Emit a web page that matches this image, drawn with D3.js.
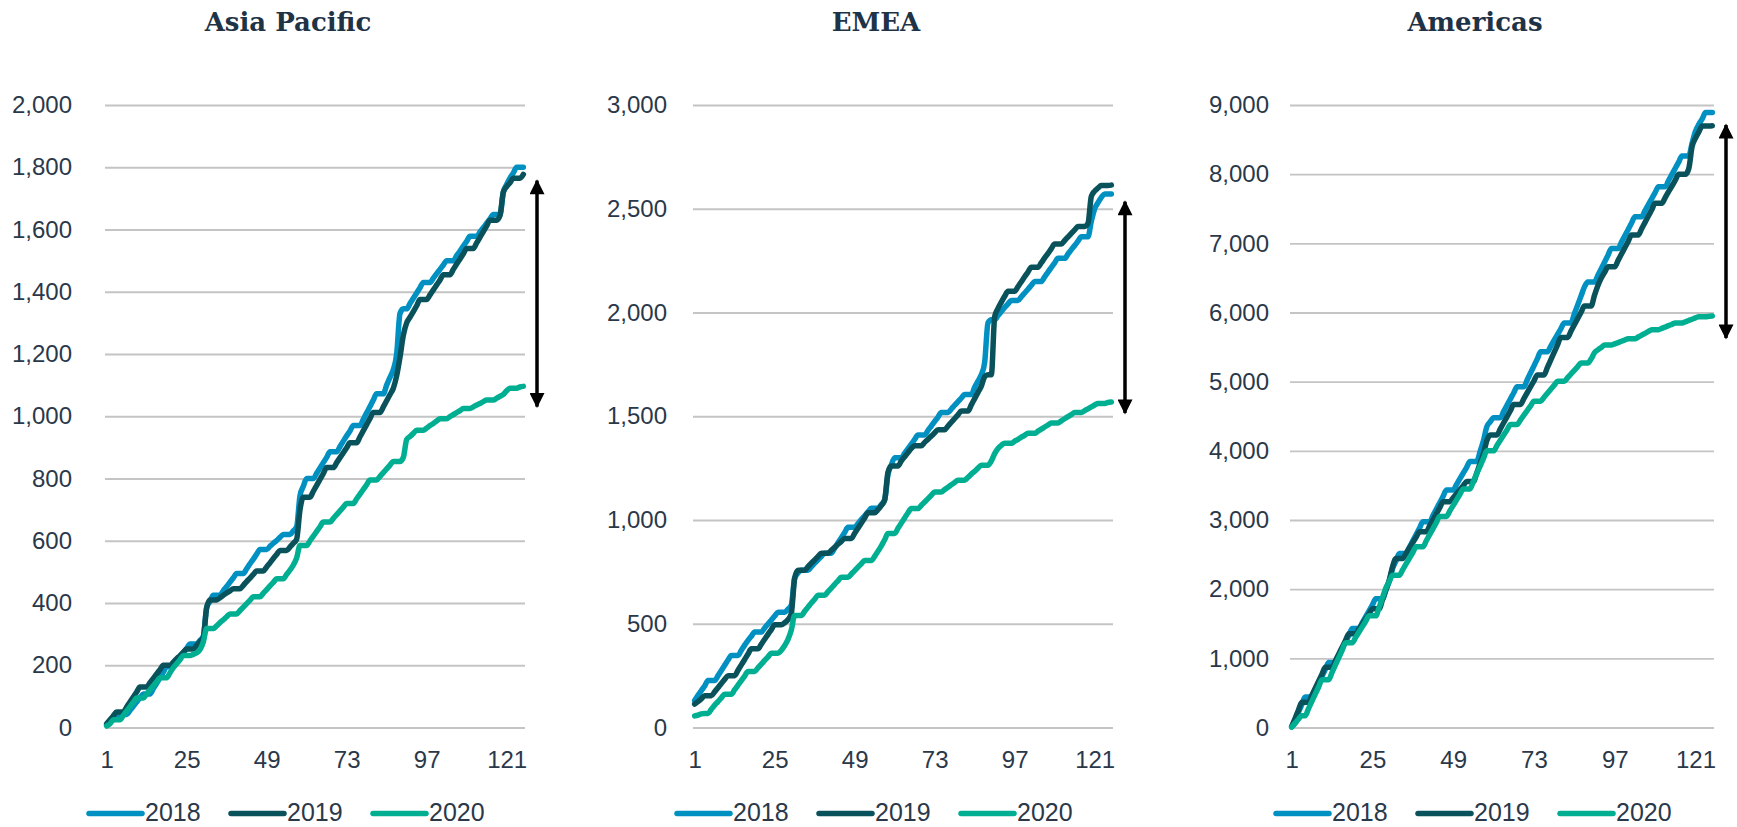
<!DOCTYPE html>
<html>
<head>
<meta charset="utf-8">
<script src="https://cdn.jsdelivr.net/npm/d3@7"></script>
<style>
  html, body { margin: 0; padding: 0; background: #ffffff; }
  svg { display: block; }
</style>
</head>
<body>
<svg id="chart" width="1737" height="827"></svg>
<script>
// Working days since 1 January, cumulative counts per region and year
const days = d3.range(1, 127);
const xTickLabels = [1, 25, 49, 73, 97, 121];
const years = ["2018", "2019", "2020"];
const yearColors = ["#0090C2", "#0A525B", "#00AF91"];
const regionNames = ["Asia Pacific", "EMEA", "Americas"];

const apacTicks = [0, 200, 400, 600, 800, 1000, 1200, 1400, 1600, 1800, 2000];
const emeaTicks = [0, 500, 1000, 1500, 2000, 2500, 3000];
const amerTicks = [0, 1000, 2000, 3000, 4000, 5000, 6000, 7000, 8000, 9000];

const apac2018 = [
  8,17,25,33,42,42,42, 55,68,82,95,108,108,108, 125,142,160,178,195,195,195,
  210,225,240,254,268,268,268, 280,293,385,405,425,425,425, 440,453,467,481,495,495,495,
  510,526,541,557,572,572,572, 582,592,601,611,620,620,620, 632,645,745,775,800,800,800,
  817,834,851,868,886,886,886, 903,920,937,953,970,970,970, 990,1011,1031,1052,1072,1072,1072,
  1100,1125,1150,1200,1330,1345,1345, 1362,1379,1396,1413,1430,1430,1430, 1444,1458,1472,1486,1500,1500,1500,
  1516,1531,1547,1562,1578,1578,1578, 1592,1606,1620,1634,1648,1648,1648, 1720,1745,1765,1782,1800,1800,1800
];
const apac2019 = [
  12,25,38,50,50,50,66, 82,98,114,130,130,130,144, 158,172,186,200,200,200,210,
  221,231,242,252,252,252,264, 276,290,385,410,410,410,417, 425,432,439,446,446,446,457,
  469,480,492,503,503,503,516, 529,543,556,569,569,569,580, 592,605,700,740,740,740,759,
  778,797,816,835,835,835,851, 867,883,899,915,915,915,934, 954,973,993,1012,1012,1012,1030,
  1050,1070,1090,1130,1190,1260,1300, 1318,1336,1355,1375,1375,1375,1390, 1406,1422,1438,1455,1455,1455,1472,
  1489,1505,1522,1539,1539,1539,1557, 1575,1593,1612,1630,1630,1630,1645, 1720,1738,1750,1765,1765,1765,1777
];
const apac2020 = [
  5,12,25,25,25,39,53, 67,81,95,95,95,108,121, 134,147,160,160,160,176,192,
  205,218,231,231,231,235,240, 250,275,318,318,318,327,337, 346,356,365,365,365,376,387,
  398,409,420,420,420,432,443, 455,466,478,478,478,492,506, 522,545,585,585,585,600,615,
  630,645,660,660,660,672,684, 696,708,720,720,720,735,750, 765,780,795,795,795,807,819,
  831,843,855,855,855,868,925, 935,945,955,955,955,962,970, 977,985,992,992,992,999,1005,
  1012,1018,1025,1025,1025,1030,1036, 1041,1047,1052,1052,1052,1058,1064, 1070,1082,1090,1090,1090,1094,1096
];

const emea2018 = [
  130,155,178,200,226,226,226, 250,275,300,325,347,347,347, 372,397,420,440,460,460,460,
  480,499,518,537,556,556,556, 570,590,720,745,758,758,758, 775,792,808,824,840,840,840,
  865,890,915,940,965,965,965, 983,1002,1020,1039,1057,1057,1057, 1075,1097,1220,1265,1300,1300,1300,
  1322,1344,1366,1388,1410,1410,1410, 1432,1453,1475,1496,1518,1518,1518, 1535,1553,1570,1588,1605,1605,1605,
  1640,1670,1700,1760,1950,1965,1965, 1985,2005,2024,2042,2058,2058,2058, 2076,2094,2112,2131,2150,2150,2150,
  2172,2195,2217,2239,2261,2261,2261, 2282,2303,2323,2344,2365,2365,2365, 2440,2500,2530,2555,2571,2571,2571
];
const emea2019 = [
  113,125,138,153,153,153,172, 192,212,232,250,250,250,276, 302,328,354,379,379,379,402,
  425,449,472,495,495,495,505, 520,550,720,758,758,758,775, 792,808,824,840,840,840,854,
  868,883,897,911,911,911,936, 960,985,1010,1035,1035,1035,1050, 1070,1097,1230,1260,1260,1260,1285,
  1305,1325,1345,1358,1358,1358,1374, 1389,1405,1420,1435,1435,1435,1453, 1471,1489,1507,1525,1525,1525,1555,
  1585,1615,1645,1690,1700,1700,1980, 2020,2050,2078,2102,2102,2102,2125, 2148,2172,2195,2218,2218,2218,2240,
  2263,2285,2308,2330,2330,2330,2347, 2364,2381,2398,2415,2415,2415,2430, 2560,2585,2600,2612,2612,2612,2614
];
const emea2020 = [
  56,60,66,68,68,88,108, 125,143,160,160,160,182,204, 226,248,270,270,270,288,305,
  323,340,358,358,358,372,395, 425,470,540,540,540,560,580, 600,618,637,637,637,655,672,
  690,707,724,724,724,740,756, 773,789,805,805,805,825,850, 875,905,935,935,935,960,985,
  1010,1035,1055,1055,1055,1071,1087, 1103,1119,1135,1135,1135,1147,1158, 1170,1181,1192,1192,1192,1206,1221,
  1235,1250,1264,1264,1264,1285,1320, 1345,1360,1370,1370,1370,1380,1389, 1399,1408,1418,1418,1418,1428,1438,
  1448,1458,1468,1468,1468,1478,1488, 1498,1508,1518,1518,1518,1527,1536, 1545,1554,1562,1562,1562,1566,1569
];

const amer2018 = [
  10,110,220,330,440,440,440, 540,640,740,840,940,940,940, 1038,1136,1234,1332,1430,1430,1430,
  1516,1602,1688,1774,1860,1860,1860, 1990,2120,2300,2410,2515,2515,2515, 2607,2699,2791,2883,2975,2975,2975,
  3067,3159,3250,3342,3434,3434,3434, 3516,3598,3680,3762,3845,3845,3845, 3990,4150,4350,4420,4480,4480,4480,
  4570,4660,4750,4840,4926,4926,4926, 5027,5128,5229,5330,5432,5432,5432, 5515,5599,5682,5766,5850,5850,5850,
  5980,6110,6240,6370,6440,6440,6440, 6537,6634,6731,6828,6925,6925,6925, 7017,7109,7201,7293,7385,7385,7385,
  7472,7559,7646,7733,7819,7819,7819, 7908,7997,8086,8175,8263,8263,8263, 8450,8620,8720,8800,8890,8890,8890
];
const amer2019 = [
  15,130,250,365,365,365,466, 567,668,769,870,870,870,967, 1064,1160,1257,1354,1354,1354,1427,
  1499,1572,1644,1717,1717,1717,1850, 1990,2130,2330,2443,2443,2443,2520, 2598,2675,2753,2830,2830,2830,2917,
  3004,3091,3178,3265,3265,3265,3323, 3381,3439,3497,3555,3555,3555,3680, 3820,3960,4150,4230,4230,4230,4318,
  4406,4494,4582,4670,4670,4670,4756, 4841,4927,5012,5098,5098,5098,5206, 5315,5423,5532,5640,5640,5640,5731,
  5822,5913,6004,6095,6095,6095,6250, 6390,6500,6580,6662,6662,6662,6754, 6845,6937,7028,7120,7120,7120,7212,
  7303,7395,7486,7578,7578,7578,7662, 7746,7829,7913,7997,7997,7997,8080, 8400,8520,8610,8697,8697,8697,8700
];
const amer2020 = [
  5,60,120,170,170,274,378, 482,586,690,690,690,797,904, 1011,1118,1225,1225,1225,1303,1381,
  1459,1537,1615,1615,1615,1740,1880, 2020,2110,2201,2201,2201,2283,2365, 2448,2530,2612,2612,2612,2700,2788,
  2876,2964,3052,3052,3052,3132,3211, 3291,3370,3450,3450,3450,3560,3670, 3780,3890,4000,4000,4000,4076,4152,
  4228,4304,4380,4380,4380,4448,4515, 4583,4650,4718,4718,4718,4775,4833, 4890,4948,5005,5005,5005,5058,5111,
  5164,5217,5270,5270,5270,5330,5420, 5460,5495,5529,5529,5529,5547,5565, 5584,5602,5620,5620,5620,5646,5673,
  5699,5726,5752,5752,5752,5771,5790, 5810,5829,5848,5848,5848,5866,5885, 5903,5922,5940,5940,5940,5944,5948
];

// Double-headed arrow spanning the 2020 shortfall (low end, high end)
const apacGap = [1031, 1757];
const emeaGap = [1516, 2534];
const amerGap = [5632, 8711];

const panels = [
  { name: regionNames[0], ticks: apacTicks, series: [apac2018, apac2019, apac2020], gap: apacGap },
  { name: regionNames[1], ticks: emeaTicks, series: [emea2018, emea2019, emea2020], gap: emeaGap },
  { name: regionNames[2], ticks: amerTicks, series: [amer2018, amer2019, amer2020], gap: amerGap }
];

// Layout
const plotLeft = [105, 693, 1290];
const plotWidths = [420, 420, 424];
const labelGap = [33, 26, 21];
const plotTop = 105;
const plotBottom = 727.5;
const centerShift = 27;
const textColor = "#2A384A";
const titleColor = "#1F3347";
const fmt = d3.format(",");

const svg = d3.select("#chart");

const defs = svg.append("defs");
defs.append("marker")
  .attr("id", "arrowHead")
  .attr("viewBox", "0 0 10 10")
  .attr("refX", 9).attr("refY", 5)
  .attr("markerUnits", "userSpaceOnUse")
  .attr("markerWidth", 17).attr("markerHeight", 15)
  .attr("orient", "auto-start-reverse")
  .append("path")
  .attr("d", "M0,0 L10,5 L0,10 Z")
  .attr("fill", "#000");

panels.forEach((p, pi) => {
  const x0 = plotLeft[pi];
  const x1 = x0 + plotWidths[pi];
  const cx = (x0 + x1) / 2 - centerShift;

  const x = d3.scalePoint().domain(days).range([x0, x1]).padding(0.5);
  const y = d3.scaleLinear().domain([0, d3.max(p.ticks)]).range([plotBottom, plotTop]);

  const g = svg.append("g");

  // Title
  g.append("text")
    .attr("x", cx).attr("y", 31)
    .attr("text-anchor", "middle")
    .attr("font-family", "'DejaVu Serif', Georgia, serif")
    .attr("font-weight", "bold")
    .attr("font-size", 26)
    .attr("fill", titleColor)
    .text(p.name);

  // Horizontal gridlines + value labels
  const yAxis = d3.axisLeft(y).tickValues(p.ticks).tickFormat(fmt)
    .tickSize(-(x1 - x0)).tickPadding(labelGap[pi]);
  const ya = g.append("g").attr("transform", `translate(${x0},0)`).call(yAxis);
  ya.select(".domain").remove();
  ya.selectAll(".tick line").attr("stroke", "#C4C4C4").attr("stroke-width", 1.8);
  ya.selectAll(".tick text")
    .attr("font-family", "'Liberation Sans', Arial, sans-serif")
    .attr("font-size", 24)
    .attr("fill", textColor);

  // Category labels
  const xAxis = d3.axisBottom(x).tickValues(xTickLabels).tickSize(0).tickPadding(23);
  const xa = g.append("g").attr("transform", `translate(0,${plotBottom})`).call(xAxis);
  xa.select(".domain").remove();
  xa.selectAll(".tick text")
    .attr("font-family", "'Liberation Sans', Arial, sans-serif")
    .attr("font-size", 24)
    .attr("fill", textColor);

  // Lines
  const line = d3.line()
    .x((d, i) => x(days[i]))
    .y(d => y(d))
    .curve(d3.curveMonotoneX);

  p.series.forEach((s, si) => {
    g.append("path")
      .datum(s)
      .attr("d", line)
      .attr("fill", "none")
      .attr("stroke", yearColors[si])
      .attr("stroke-width", 5.5)
      .attr("stroke-linejoin", "round")
      .attr("stroke-linecap", "round");
  });

  // Gap arrow
  const ax = x1 + 12;
  g.append("line")
    .attr("x1", ax).attr("x2", ax)
    .attr("y1", y(p.gap[1])).attr("y2", y(p.gap[0]))
    .attr("stroke", "#000")
    .attr("stroke-width", 3.5)
    .attr("marker-start", "url(#arrowHead)")
    .attr("marker-end", "url(#arrowHead)");

  // Legend
  const itemPitch = 142;
  const lgStart = cx - 199;
  const lgY = 813.5;
  years.forEach((yr, k) => {
    const lx = lgStart + k * itemPitch;
    g.append("line")
      .attr("x1", lx).attr("x2", lx + 53)
      .attr("y1", lgY).attr("y2", lgY)
      .attr("stroke", yearColors[k])
      .attr("stroke-width", 5.5)
      .attr("stroke-linecap", "round");
    g.append("text")
      .attr("x", lx + 56).attr("y", 821)
      .attr("font-family", "'Liberation Sans', Arial, sans-serif")
      .attr("font-size", 25)
      .attr("fill", textColor)
      .text(yr);
  });
});
</script>
</body>
</html>
